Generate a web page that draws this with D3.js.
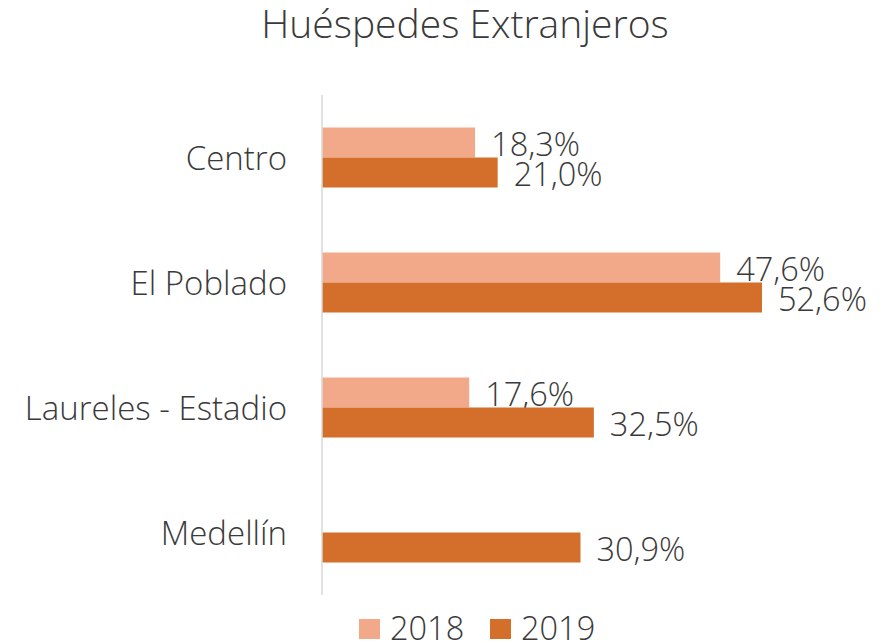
<!DOCTYPE html>
<html><head><meta charset="utf-8">
<script src="https://cdn.jsdelivr.net/npm/d3@7"></script>
<style>body{margin:0;background:#fff}svg{display:block}text{font-family:"Open Sans",sans-serif;font-weight:300;fill:#3a3a3a}</style>
</head><body><svg id="c" width="887" height="644"></svg>
<script>
const categories = ["Centro","El Poblado","Laureles - Estadio","Medellín"];
const seriesNames = ["2018","2019"];
const values2018 = [18.3, 47.6, 17.6, null];
const values2019 = [21.0, 52.6, 32.5, 30.9];
const colors = ["#F2A98A","#D46F2B"];
const title = "Huéspedes Extranjeros";

const svg = d3.select("#c");
const x = d3.scaleLinear().domain([0, 52.6]).range([322, 762]);
const y = d3.scaleBand().domain(categories).range([95, 595]).paddingInner(0.52).paddingOuter(0.26);
const y1 = d3.scaleBand().domain(seriesNames).range([0, y.bandwidth()]);
const fmt = v => d3.format(".1f")(v).replace(".", ",") + "%";

svg.append("text").attr("x", 465).attr("y", 38).attr("text-anchor","middle").attr("font-size", 39).text(title);

const series = [values2018, values2019];
series.forEach((vals, si) => {
  const g = svg.append("g");
  categories.forEach((c, i) => {
    const v = vals[i];
    if (v == null) return;
    const yy = y(c) + y1(seriesNames[si]);
    g.append("rect").attr("x", x(0)).attr("y", yy).attr("width", x(v) - x(0)).attr("height", y1.bandwidth()).attr("fill", colors[si]);
    g.append("text").attr("x", x(v) + 16).attr("y", yy + y1.bandwidth()/2 + 13).attr("font-size", 32.5).text(fmt(v));
  });
});

svg.append("line").attr("x1", 322).attr("x2", 322).attr("y1", 95).attr("y2", 595).attr("stroke", "#d9d9d9").attr("stroke-width", 1.5);

const yAxis = d3.axisLeft(y).tickSize(0).tickPadding(0);
const ga = svg.append("g").attr("transform","translate(287,0)").call(yAxis);
ga.select(".domain").remove();
ga.selectAll("text").attr("font-size", 33).attr("dy", null).attr("y", 12).attr("fill", null);
ga.attr("font-family", null).attr("font-size", null);

const lg = svg.append("g");
const lx = [359, 490];
seriesNames.forEach((s, i) => {
  lg.append("rect").attr("x", lx[i]).attr("y", 619).attr("width", 21).attr("height", 20).attr("fill", colors[i]);
  lg.append("text").attr("x", lx[i] + 31).attr("y", 640).attr("font-size", 32.5).text(s);
});
</script></body></html>
